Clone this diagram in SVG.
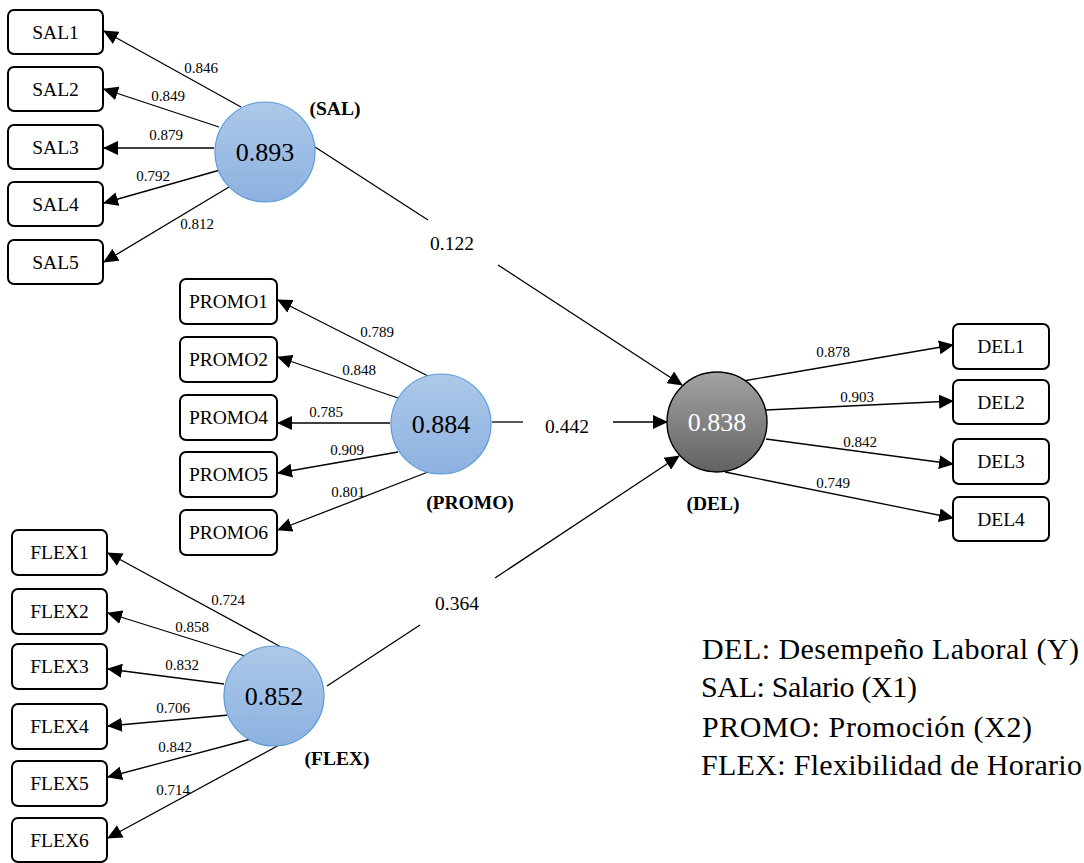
<svg xmlns="http://www.w3.org/2000/svg" width="1084" height="863" viewBox="0 0 1084 863">
  <style>
    .box { fill: #ffffff; stroke: #000000; stroke-width: 2; }
    .lv { fill: url(#blueFill); stroke: #5b9bd5; stroke-width: 1.2; }
    .dv { fill: url(#greyFill); stroke: #000000; stroke-width: 1.4; }
    .edge { stroke: #000000; stroke-width: 1.3; fill: none; }
    .arrow { marker-end: url(#head); }
    text { font-family: "Liberation Serif", "Times New Roman", serif; fill: #000000; }
    .item { font-size: 19.5px; text-anchor: middle; }
    .load { font-size: 15px; text-anchor: middle; }
    .coef { font-size: 19.5px; text-anchor: middle; }
    .val { font-size: 26px; text-anchor: middle; }
    .name { font-size: 19.5px; font-weight: bold; text-anchor: middle; }
    .legend { font-size: 30px; }
  </style>
  <defs>
    <linearGradient id="blueFill" x1="0" y1="0" x2="0" y2="1">
      <stop offset="0" stop-color="#adc8e9"/>
      <stop offset="1" stop-color="#8cb2e0"/>
    </linearGradient>
    <linearGradient id="greyFill" x1="0" y1="0" x2="0" y2="1">
      <stop offset="0" stop-color="#a3a3a3"/>
      <stop offset="1" stop-color="#626262"/>
    </linearGradient>
    <marker id="head" markerUnits="userSpaceOnUse" markerWidth="15" markerHeight="14" refX="14" refY="7" orient="auto">
      <path d="M0,0 L15,7 L0,14 z" fill="#000000"/>
    </marker>
  </defs>

  <!-- connectors -->
  <g id="connectors">
    <!-- SAL loadings -->
    <line class="edge arrow" x1="241" y1="107" x2="104" y2="31"/>
    <line class="edge arrow" x1="219" y1="127" x2="104" y2="89"/>
    <line class="edge arrow" x1="214" y1="148" x2="104" y2="148"/>
    <line class="edge arrow" x1="220" y1="170" x2="104" y2="203"/>
    <line class="edge arrow" x1="229" y1="187" x2="104" y2="262"/>
    <!-- PROMO loadings -->
    <line class="edge arrow" x1="428" y1="376" x2="278" y2="300"/>
    <line class="edge arrow" x1="398" y1="398" x2="278" y2="357"/>
    <line class="edge arrow" x1="390" y1="423" x2="278" y2="423"/>
    <line class="edge arrow" x1="398" y1="452" x2="278" y2="473"/>
    <line class="edge arrow" x1="428" y1="472" x2="278" y2="530"/>
    <!-- FLEX loadings -->
    <line class="edge arrow" x1="281" y1="647" x2="108" y2="553"/>
    <line class="edge arrow" x1="245" y1="656" x2="108" y2="613"/>
    <line class="edge arrow" x1="224" y1="684" x2="108" y2="669"/>
    <line class="edge arrow" x1="229" y1="715" x2="108" y2="726"/>
    <line class="edge arrow" x1="251" y1="739" x2="108" y2="777"/>
    <line class="edge arrow" x1="281" y1="744" x2="108" y2="838"/>
    <!-- DEL loadings -->
    <line class="edge arrow" x1="743" y1="381" x2="953" y2="345"/>
    <line class="edge arrow" x1="766" y1="410" x2="953" y2="401"/>
    <line class="edge arrow" x1="766" y1="439" x2="953" y2="464"/>
    <line class="edge arrow" x1="725" y1="472" x2="953" y2="518"/>
    <!-- structural paths, broken around their coefficients -->
    <line class="edge" x1="315" y1="147" x2="428" y2="220"/>
    <line class="edge arrow" x1="498" y1="265" x2="682" y2="385"/>
    <line class="edge" x1="492" y1="422" x2="523" y2="422"/>
    <line class="edge arrow" x1="613" y1="422" x2="667" y2="422"/>
    <line class="edge" x1="327" y1="686" x2="420" y2="625"/>
    <line class="edge arrow" x1="495" y1="578" x2="679" y2="456"/>

    <!-- loading values -->
    <text class="load" x="201" y="73">0.846</text>
    <text class="load" x="168" y="101">0.849</text>
    <text class="load" x="166" y="140">0.879</text>
    <text class="load" x="153" y="181">0.792</text>
    <text class="load" x="197" y="229">0.812</text>
    <text class="load" x="377" y="337">0.789</text>
    <text class="load" x="359" y="375">0.848</text>
    <text class="load" x="326" y="417">0.785</text>
    <text class="load" x="347" y="455">0.909</text>
    <text class="load" x="348" y="497">0.801</text>
    <text class="load" x="228" y="605">0.724</text>
    <text class="load" x="192" y="632">0.858</text>
    <text class="load" x="182" y="670">0.832</text>
    <text class="load" x="173" y="713">0.706</text>
    <text class="load" x="175" y="752">0.842</text>
    <text class="load" x="173" y="795">0.714</text>
    <text class="load" x="833" y="357">0.878</text>
    <text class="load" x="857" y="402">0.903</text>
    <text class="load" x="860" y="447">0.842</text>
    <text class="load" x="833" y="488">0.749</text>

    <!-- path coefficients -->
    <text class="coef" x="452" y="249.5">0.122</text>
    <text class="coef" x="567" y="432.5">0.442</text>
    <text class="coef" x="457" y="609.5">0.364</text>
  </g>

  <!-- indicator boxes -->
  <g id="SAL1"><rect class="box" x="8" y="10" width="95" height="44" rx="6"/><text class="item" x="55.5" y="38.5">SAL1</text></g>
  <g id="SAL2"><rect class="box" x="8" y="67" width="95" height="44" rx="6"/><text class="item" x="55.5" y="95.5">SAL2</text></g>
  <g id="SAL3"><rect class="box" x="8" y="125" width="95" height="44" rx="6"/><text class="item" x="55.5" y="153.5">SAL3</text></g>
  <g id="SAL4"><rect class="box" x="8" y="182" width="95" height="44" rx="6"/><text class="item" x="55.5" y="210.5">SAL4</text></g>
  <g id="SAL5"><rect class="box" x="8" y="240" width="95" height="44" rx="6"/><text class="item" x="55.5" y="268.5">SAL5</text></g>

  <g id="PROMO1"><rect class="box" x="180" y="279" width="97" height="45" rx="6"/><text class="item" x="228.5" y="308">PROMO1</text></g>
  <g id="PROMO2"><rect class="box" x="180" y="337" width="97" height="45" rx="6"/><text class="item" x="228.5" y="366">PROMO2</text></g>
  <g id="PROMO4"><rect class="box" x="180" y="395" width="97" height="45" rx="6"/><text class="item" x="228.5" y="424">PROMO4</text></g>
  <g id="PROMO5"><rect class="box" x="180" y="452" width="97" height="45" rx="6"/><text class="item" x="228.5" y="481">PROMO5</text></g>
  <g id="PROMO6"><rect class="box" x="180" y="510" width="97" height="45" rx="6"/><text class="item" x="228.5" y="539">PROMO6</text></g>

  <g id="FLEX1"><rect class="box" x="12" y="530" width="95" height="45" rx="6"/><text class="item" x="59.5" y="559">FLEX1</text></g>
  <g id="FLEX2"><rect class="box" x="12" y="589" width="95" height="45" rx="6"/><text class="item" x="59.5" y="618">FLEX2</text></g>
  <g id="FLEX3"><rect class="box" x="12" y="644" width="95" height="45" rx="6"/><text class="item" x="59.5" y="673">FLEX3</text></g>
  <g id="FLEX4"><rect class="box" x="12" y="704" width="95" height="45" rx="6"/><text class="item" x="59.5" y="733">FLEX4</text></g>
  <g id="FLEX5"><rect class="box" x="12" y="761" width="95" height="45" rx="6"/><text class="item" x="59.5" y="790">FLEX5</text></g>
  <g id="FLEX6"><rect class="box" x="12" y="818" width="95" height="44" rx="6"/><text class="item" x="59.5" y="846.5">FLEX6</text></g>

  <g id="DEL1"><rect class="box" x="953" y="324" width="96" height="45" rx="6"/><text class="item" x="1001" y="353">DEL1</text></g>
  <g id="DEL2"><rect class="box" x="953" y="380" width="96" height="44" rx="6"/><text class="item" x="1001" y="408.5">DEL2</text></g>
  <g id="DEL3"><rect class="box" x="953" y="439" width="96" height="45" rx="6"/><text class="item" x="1001" y="468">DEL3</text></g>
  <g id="DEL4"><rect class="box" x="953" y="497" width="96" height="44" rx="6"/><text class="item" x="1001" y="525.5">DEL4</text></g>

  <!-- latent variables -->
  <g id="SAL">
    <circle class="lv" cx="265" cy="152" r="50"/>
    <text class="val" x="265" y="161">0.893</text>
    <text class="name" x="335" y="114.5">(SAL)</text>
  </g>
  <g id="PROMO">
    <circle class="lv" cx="441" cy="424" r="50"/>
    <text class="val" x="441" y="433">0.884</text>
    <text class="name" x="470" y="508.5">(PROMO)</text>
  </g>
  <g id="FLEX">
    <circle class="lv" cx="274" cy="696" r="50"/>
    <text class="val" x="274" y="705">0.852</text>
    <text class="name" x="337" y="764.5">(FLEX)</text>
  </g>
  <g id="DEL">
    <circle class="dv" cx="717" cy="422" r="50"/>
    <text class="val" x="717" y="431" style="fill:#ffffff">0.838</text>
    <text class="name" x="713" y="509.5">(DEL)</text>
  </g>

  <!-- legend -->
  <g id="legend">
    <text class="legend" x="702" y="659" textLength="377">DEL: Desempeño Laboral (Y)</text>
    <text class="legend" x="701" y="697" textLength="216">SAL: Salario (X1)</text>
    <text class="legend" x="702" y="737" textLength="330">PROMO: Promoción (X2)</text>
    <text class="legend" x="701" y="775" textLength="381">FLEX: Flexibilidad de Horario</text>
  </g>
</svg>
